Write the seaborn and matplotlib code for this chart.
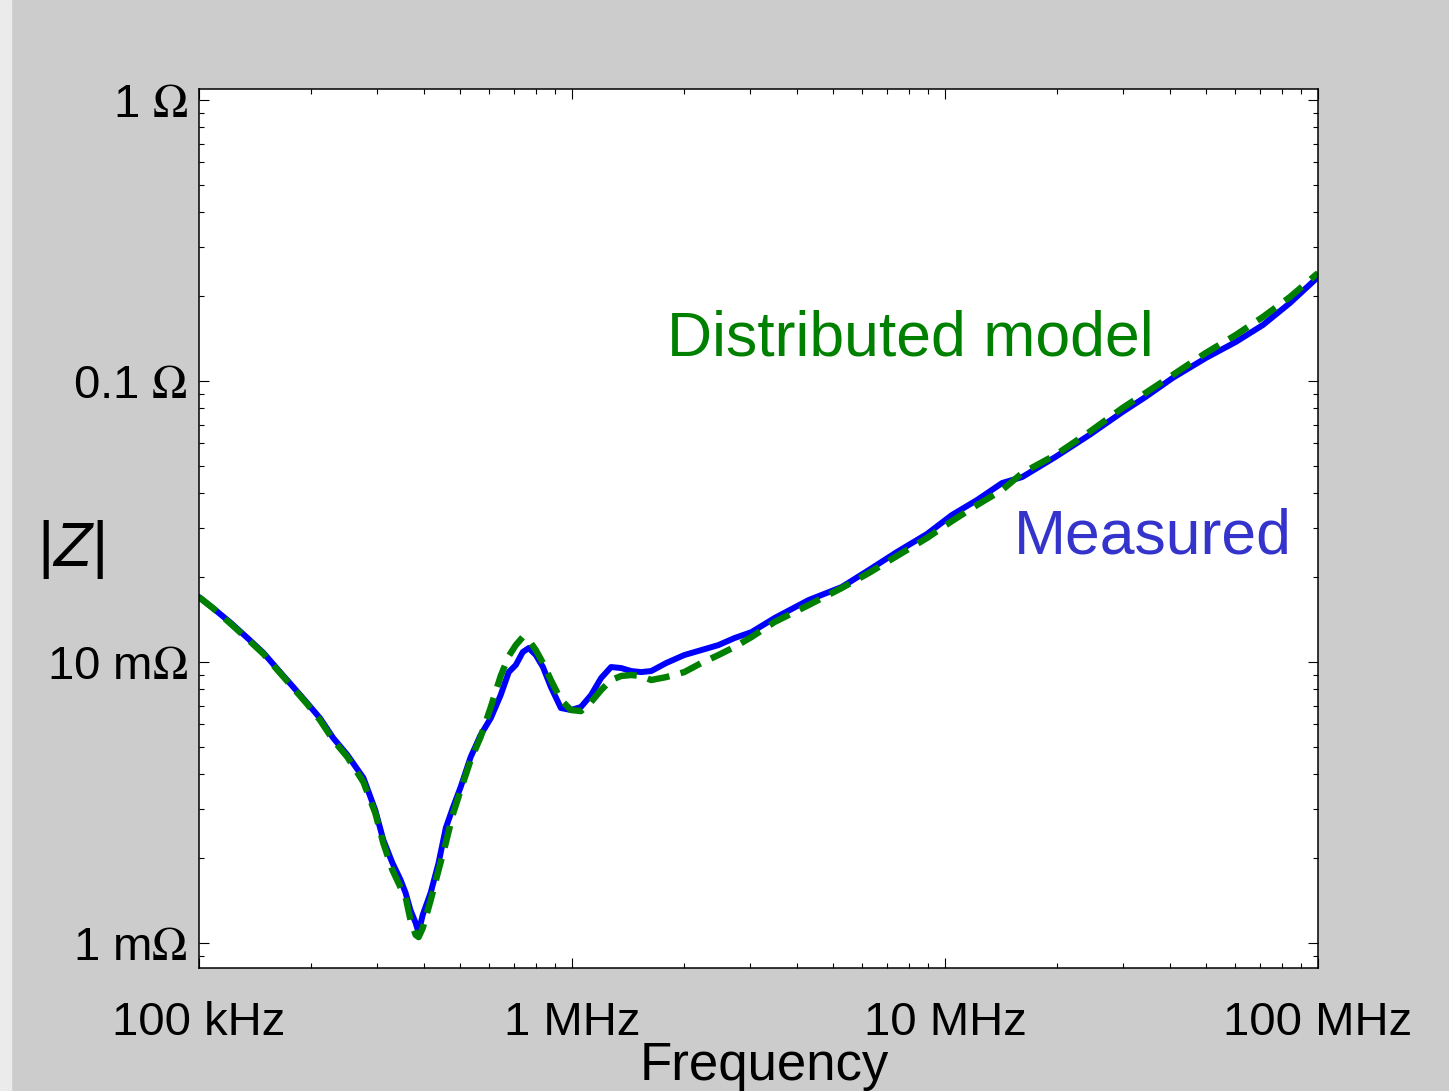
import numpy as np
import pandas as pd
import seaborn as sns
import matplotlib.pyplot as plt
from matplotlib.patches import Rectangle
from matplotlib.ticker import NullFormatter

# Frequency points (MHz)
freq_mhz = [0.100, 0.109, 0.121, 0.135, 0.149, 0.165, 0.179, 0.195, 0.211, 0.229,
            0.250, 0.276, 0.297, 0.312, 0.330, 0.347, 0.358, 0.369, 0.381, 0.388,
            0.398, 0.418, 0.439, 0.459, 0.479, 0.503, 0.535, 0.569, 0.606, 0.644,
            0.677, 0.707, 0.738, 0.766, 0.800, 0.836, 0.878, 0.934, 0.994, 1.057,
            1.125, 1.197, 1.273, 1.355, 1.441, 1.533, 1.631, 1.789, 2.000, 2.222,
            2.469, 2.726, 3.029, 3.492, 4.310, 5.287, 6.248, 7.430, 8.944, 10.44,
            12.19, 14.23, 16.11, 19.76, 24.38, 29.91, 34.48, 40.75, 50.00, 60.18,
            71.14, 84.09, 100.0]

# measured |Z| (mOhm)
measured_mohm = [17.03, 15.56, 13.88, 12.17, 10.77, 9.21, 8.15, 7.15, 6.32, 5.37,
                 4.67, 3.87, 2.97, 2.33, 1.93, 1.68, 1.51, 1.31, 1.18, 1.09,
                 1.26, 1.51, 1.93, 2.57, 3.02, 3.59, 4.59, 5.50, 6.32, 7.63,
                 9.21, 9.76, 10.85, 11.22, 10.59, 9.60, 8.15, 6.86, 6.75, 6.92,
                 7.63, 8.77, 9.60, 9.52, 9.29, 9.21, 9.29, 9.92, 10.59, 11.03,
                 11.49, 12.17, 12.78, 14.34, 16.62, 18.49, 21.25, 24.63, 28.54, 33.37,
                 37.72, 43.36, 45.54, 53.65, 64.26, 77.59, 87.74, 102.5, 120.7, 137.7,
                 158.2, 189.5, 234.5]

# distributed model |Z| (mOhm)
model_mohm = [17.03, 15.56, 13.77, 12.07, 10.68, 9.14, 8.08, 7.09, 6.22, 5.28,
              4.59, 3.74, 2.90, 2.27, 1.82, 1.58, 1.46, 1.21, 1.07, 1.05,
              1.13, 1.42, 1.82, 2.27, 2.86, 3.50, 4.48, 5.41, 6.92, 8.92,
              10.50, 11.49, 12.27, 11.98, 11.03, 9.92, 8.63, 7.33, 6.75, 6.69,
              7.21, 7.95, 8.63, 8.92, 8.99, 8.92, 8.63, 8.84, 9.21, 9.92,
              10.59, 11.31, 12.27, 13.88, 15.95, 18.34, 20.74, 23.83, 27.62, 31.75,
              36.21, 40.94, 47.06, 54.54, 65.86, 80.18, 90.67, 105.0, 125.8, 145.8,
              169.0, 199.0, 242.3]

x_ticks = [1e5, 1e6, 1e7, 1e8]
x_labels = ['100 kHz', '1 MHz', '10 MHz', '100 MHz']
y_ticks = [1e-3, 1e-2, 1e-1, 1]
y_labels = ['1 m$\\mathrm{\\Omega}$', '10 m$\\mathrm{\\Omega}$',
            '0.1 $\\mathrm{\\Omega}$', '1 $\\mathrm{\\Omega}$']

df = pd.DataFrame({
    'f': np.array(freq_mhz) * 1e6,
    'meas': np.array(measured_mohm) * 1e-3,
    'model': np.array(model_mohm) * 1e-3,
})

sns.set_style('ticks')
plt.rcParams['font.family'] = ['Liberation Sans', 'DejaVu Sans']
plt.rcParams['text.color'] = 'black'
plt.rcParams['axes.labelcolor'] = 'black'
plt.rcParams['xtick.color'] = 'black'
plt.rcParams['ytick.color'] = 'black'
plt.rcParams['mathtext.fontset'] = 'custom'
plt.rcParams['mathtext.rm'] = 'STIXGeneral'
plt.rcParams['mathtext.it'] = 'Liberation Sans:italic'

fig = plt.figure(figsize=(14.49, 10.91), dpi=100, facecolor='#cccccc')
fig.patches.append(Rectangle((0, 0), 11 / 1449, 1, transform=fig.transFigure,
                             color='#ebebeb', zorder=0))
ax = fig.add_axes([0.1373, 0.1127, 0.7723, 0.8057])
ax.set_facecolor('white')

sns.lineplot(data=df, x='f', y='meas', ax=ax, color='#0000ff', lw=4.3)
sns.lineplot(data=df, x='f', y='model', ax=ax, color='#008000', lw=4.6,
             linestyle='--')
ax.lines[-1].set_dashes((3.5, 1.8))

ax.set_xscale('log')
ax.set_yscale('log')
ax.set_xlim(1e5, 1e8)
ax.set_ylim(8.15e-4, 1.094)
ax.set_xticks(x_ticks, x_labels)
ax.set_yticks(y_ticks, y_labels)
ax.xaxis.set_minor_formatter(NullFormatter())
ax.yaxis.set_minor_formatter(NullFormatter())

ax.tick_params(which='both', direction='in', top=True, right=True,
               color='black', labelcolor='black', width=0.8)
ax.tick_params(which='major', length=7)
ax.tick_params(which='minor', length=3.5)
ax.tick_params(axis='x', which='major', labelsize=34, pad=24)
ax.tick_params(axis='y', which='major', labelsize=34, pad=8)
for s in ax.spines.values():
    s.set_color('black')
    s.set_linewidth(1.1)

ax.set_xlabel('Frequency', fontsize=38, color='black')
ax.xaxis.set_label_coords(0.5054, -0.1274)
ax.xaxis.label.set_va('baseline')
ax.set_ylabel('|$\\mathit{Z}$|', fontsize=45, rotation=0, ha='center', va='center',
              color='black')
ax.yaxis.set_label_coords(-0.1144, 0.4767)

ax.text(0.636, 0.6974, 'Distributed model', transform=ax.transAxes,
        color='#008000', fontsize=45, ha='center', va='baseline')
ax.text(0.8525, 0.4721, 'Measured', transform=ax.transAxes,
        color='#3434cc', fontsize=45, ha='center', va='baseline')

fig.savefig('out.png', dpi=100, facecolor=fig.get_facecolor())
